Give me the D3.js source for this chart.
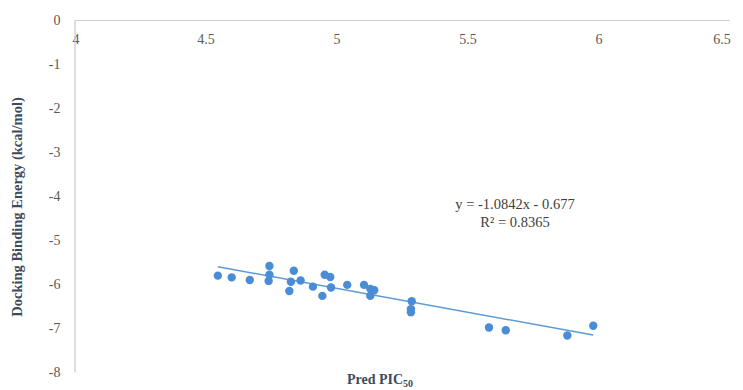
<!DOCTYPE html>
<html>
<head>
<meta charset="utf-8">
<script src="https://cdn.jsdelivr.net/npm/d3@7"></script>
<style>
  body { margin: 0; background: #fff; }
  svg text { font-family: "Liberation Serif", "DejaVu Serif", serif; }
</style>
</head>
<body>
<div id="app"></div>
<script>
// values
const predPIC50 = [4.547, 4.600, 4.669, 4.744, 4.744, 4.741, 4.820, 4.837, 4.826, 4.863,
                   4.910, 4.946, 4.955, 4.976, 4.979, 5.041, 5.105, 5.129, 5.144, 5.129,
                   5.287, 5.284, 5.284, 5.582, 5.646, 5.881, 5.980]
const bindingEnergy = [-5.81, -5.85, -5.91, -5.59, -5.79, -5.93, -6.16, -5.70, -5.95, -5.92,
                       -6.06, -6.27, -5.79, -5.84, -6.08, -6.02, -6.02, -6.11, -6.14, -6.27,
                       -6.39, -6.57, -6.64, -6.99, -7.05, -7.17, -6.95]
const trendCoef = [-1.0842, -0.677]   // slope, intercept
const xTicks = [4, 4.5, 5, 5.5, 6, 6.5]
const yTicks = [0, -1, -2, -3, -4, -5, -6, -7, -8]

const data = predPIC50.map((x, i) => ({x: x, y: bindingEnergy[i]}))

const width = 743, height = 390
const svg = d3.select('#app').append('svg')
    .attr('width', width)
    .attr('height', height)

const x = d3.scaleLinear().domain([4, 6.5]).range([74.5, 729.5])
const y = d3.scaleLinear().domain([0, -8]).range([20, 372])

// x axis sits at y = 0 (top)
const xAxis = svg.append('g').attr('transform', `translate(0,${y(0)})`)
    .call(d3.axisBottom(x).tickValues(xTicks).tickFormat(d3.format('')).tickSize(0).tickPadding(14))
xAxis.select('.domain').attr('stroke', '#d0d0d0')
xAxis.selectAll('text').attr('font-size', 14).attr('fill', '#595959')
xAxis.selectAll('.tick').filter(d => d === 4).select('text').attr('dx', 1)
xAxis.selectAll('.tick').filter(d => d === 6.5).select('text').attr('dx', -8)

const yAxis = svg.append('g').attr('transform', `translate(${x(4)},0)`)
    .call(d3.axisLeft(y).tickValues(yTicks).tickFormat(d3.format('')).tickSize(0).tickPadding(14))
yAxis.select('.domain').attr('stroke', '#b8bcc8')
yAxis.selectAll('text').attr('font-size', 14).attr('fill', '#595959')
    .text(d => d < 0 ? '-' + Math.abs(d) : d)

// trend line
const xr = d3.extent(predPIC50)
const line = d3.line().x(d => x(d)).y(d => y(trendCoef[0] * d + trendCoef[1]))
svg.append('path')
    .attr('d', line(xr))
    .attr('fill', 'none')
    .attr('stroke', '#5b9bd5')
    .attr('stroke-width', 1.5)

svg.selectAll('circle')
    .data(data)
    .enter().append('circle')
    .attr('cx', d => x(d.x))
    .attr('cy', d => y(d.y))
    .attr('r', 4.2)
    .attr('fill', '#4a8cd6')

// equation
svg.append('text')
    .attr('x', 515).attr('y', 209)
    .attr('text-anchor', 'middle')
    .attr('font-size', 14.5)
    .attr('fill', '#404040')
    .text(`y = ${trendCoef[0]}x - ${Math.abs(trendCoef[1])}`)
svg.append('text')
    .attr('x', 515).attr('y', 227)
    .attr('text-anchor', 'middle')
    .attr('font-size', 14.5)
    .attr('fill', '#404040')
    .text('R² = 0.8365')

// axis titles
svg.append('text')
    .attr('transform', `translate(22,${207}) rotate(-90)`)
    .attr('text-anchor', 'middle')
    .attr('font-size', 14.5)
    .attr('font-weight', 'bold')
    .attr('fill', '#3d4a5c')
    .text('Docking Binding Energy (kcal/mol)')

const xt = svg.append('text')
    .attr('x', 380).attr('y', 384)
    .attr('text-anchor', 'middle')
    .attr('font-size', 14)
    .attr('font-weight', 'bold')
    .attr('fill', '#3d4a5c')
xt.append('tspan').text('Pred PIC')
xt.append('tspan').attr('font-size', 10).attr('dy', 3).text('50')
</script>
</body>
</html>
